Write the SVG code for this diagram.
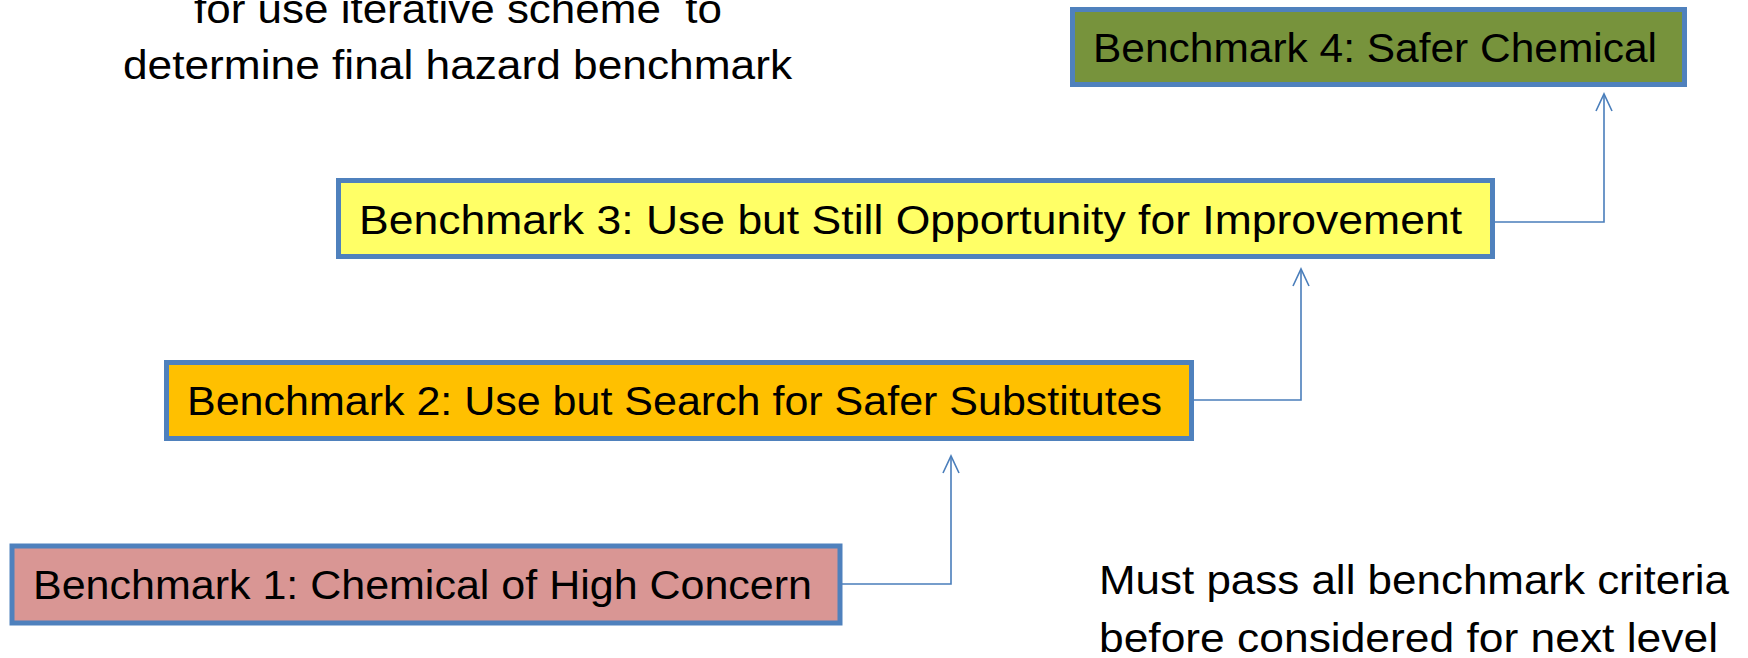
<svg xmlns="http://www.w3.org/2000/svg" width="1748" height="658" viewBox="0 0 1748 658">
<style>
.box{stroke:#4f81bd;stroke-width:5}
.lbl{font-family:"Liberation Sans",Arial,sans-serif;font-size:40px;fill:#000;white-space:pre}
.con{fill:none;stroke:#4a7ebb;stroke-width:1.6}
</style>
<defs>
<marker id="arr" markerUnits="userSpaceOnUse" markerWidth="24" markerHeight="24" viewBox="-20 -12 24 24" refX="0" refY="0" orient="auto">
<path d="M-17,-8 L0,0 L-17,8" fill="none" stroke="#4a7ebb" stroke-width="1.6"/>
</marker>
</defs>
<rect width="1748" height="658" fill="#fff"/>
<g id="note-top">
<text class="lbl" x="194" y="23" textLength="528" lengthAdjust="spacingAndGlyphs">for use iterative scheme  to</text>
<text class="lbl" x="123" y="79" textLength="669" lengthAdjust="spacingAndGlyphs">determine final hazard benchmark</text>
</g>
<g id="note-bottom">
<text class="lbl" x="1099" y="594" textLength="630" lengthAdjust="spacingAndGlyphs">Must pass all benchmark criteria</text>
<text class="lbl" x="1099" y="652" textLength="619" lengthAdjust="spacingAndGlyphs">before considered for next level</text>
</g>
<g id="connectors">
<path class="con" d="M842,584 H951 V456" marker-end="url(#arr)"/>
<path class="con" d="M1194,400 H1301 V269" marker-end="url(#arr)"/>
<path class="con" d="M1495,222 H1604 V94" marker-end="url(#arr)"/>
</g>
<g id="benchmark1">
<rect class="box" x="12" y="546" width="828" height="77" fill="#d99694"/>
<text class="lbl" x="33" y="599" textLength="779" lengthAdjust="spacingAndGlyphs">Benchmark 1: Chemical of High Concern</text>
</g>
<g id="benchmark2">
<rect class="box" x="166.5" y="362.5" width="1025" height="76" fill="#ffc000"/>
<text class="lbl" x="187" y="415" textLength="975" lengthAdjust="spacingAndGlyphs">Benchmark 2: Use but Search for Safer Substitutes</text>
</g>
<g id="benchmark3">
<rect class="box" x="338.5" y="180.5" width="1154" height="76" fill="#ffff66"/>
<text class="lbl" x="359" y="234" textLength="1103" lengthAdjust="spacingAndGlyphs">Benchmark 3: Use but Still Opportunity for Improvement</text>
</g>
<g id="benchmark4">
<rect class="box" x="1072.5" y="9.5" width="612" height="75" fill="#77933c"/>
<text class="lbl" x="1093" y="62" textLength="564" lengthAdjust="spacingAndGlyphs">Benchmark 4: Safer Chemical</text>
</g>
</svg>
